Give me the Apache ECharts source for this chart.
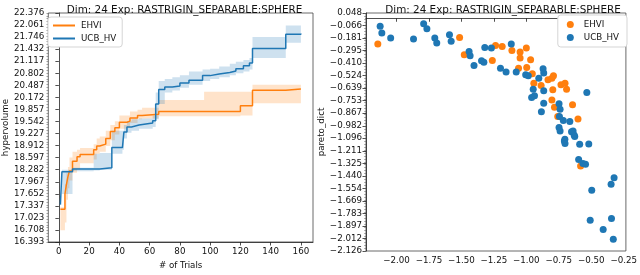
<!DOCTYPE html>
<html><head><meta charset="utf-8">
<script src="https://cdn.jsdelivr.net/npm/echarts@6/dist/echarts.min.js"></script>
<style>html,body{margin:0;padding:0;background:#fff}#c{width:640px;height:275px}</style>
</head><body><div id="c"></div>
<script>
// ---- data ----
const titleText = 'Dim: 24 Exp: RASTRIGIN_SEPARABLE:SPHERE';
const seriesNames = ['EHVI', 'UCB_HV'];

// left: hypervolume vs trials (step breakpoints)
const ehviT    = [1,4,5,6,7,9,12,14,23,25,27,31,34,37,40,45,47,52,55,66,96,120,128,150,160];
const ehviMean = [17.25,17.65,17.9,18.1,18.25,18.5,18.62,18.68,18.8,18.9,18.95,19.1,19.28,19.38,19.52,19.55,19.63,19.7,19.73,19.8,19.8,19.95,20.36,20.39,20.39];
const ehviLo   = [16.7,16.9,17.5,17.8,18.0,18.2,18.3,18.45,18.55,18.7,18.75,18.9,19.05,19.2,19.35,19.4,19.5,19.6,19.62,19.68,19.68,19.7,20.02,20.02,20.02];
const ehviHi   = [17.3,17.9,18.2,18.35,18.6,18.75,18.8,18.85,18.95,19.1,19.15,19.3,19.45,19.55,19.7,19.7,19.8,19.85,19.9,20.1,20.32,20.32,20.5,20.5,20.5];

const ucbT    = [1,2,9,23,27,35,42,43,45,48,53,62,64,66,70,75,80,86,95,100,106,113,117,122,126,128,150,160];
const ucbMean = [17.37,18.23,18.3,18.3,18.33,18.86,18.9,19.27,19.4,19.45,19.5,19.56,20.0,20.38,20.44,20.47,20.55,20.62,20.74,20.78,20.82,20.86,20.92,21.0,21.07,21.45,21.82,21.84];
const ucbLo   = [17.37,17.65,18.24,18.26,18.28,18.7,18.8,19.1,19.25,19.3,19.35,19.4,19.6,20.0,20.3,20.35,20.42,20.5,20.6,20.65,20.7,20.75,20.8,20.85,20.9,21.2,21.6,21.6];
const ucbHi   = [17.37,18.28,18.33,18.7,18.72,19.3,19.3,19.45,19.55,19.6,19.62,19.7,20.3,20.6,20.65,20.7,20.75,20.85,20.9,20.92,20.98,21.05,21.1,21.15,21.2,21.75,22.05,22.15];

const leftXTicks = [0,20,40,60,80,100,120,140,160];
const leftYTicks = ['16.393','16.708','17.023','17.337','17.652','17.967','18.282','18.597','18.912','19.227','19.542','19.857','20.172','20.487','20.802','21.117','21.432','21.746','22.061','22.376'];

// right: pareto scatter
const ehviX = [-2.144,-1.514,-1.478,-1.237,-1.186,-1.111,-1.048,-1.0,-1.048,-0.967,-1.262,-1.06,-0.997,-0.954,-0.942,-0.886,-0.833,-0.803,-0.791,-0.733,-0.702,-0.69,-0.796,-0.803,-0.783,-0.644,-0.602,-0.758,-0.582];
const ehviY = [-0.236,-0.175,-0.334,-0.248,-0.257,-0.294,-0.309,-0.272,-0.364,-0.379,-0.385,-0.456,-0.45,-0.508,-0.593,-0.614,-0.562,-0.547,-0.526,-0.608,-0.593,-0.648,-0.654,-0.746,-0.813,-0.791,-0.92,-0.898,-1.35];
const ucbX = [-2.126,-2.113,-2.045,-1.869,-1.791,-1.766,-1.705,-1.69,-1.592,-1.579,-1.441,-1.433,-1.403,-1.345,-1.327,-1.32,-1.269,-1.199,-1.156,-1.116,-1.078,-1.005,-0.985,-0.947,-0.959,-0.937,-0.904,-0.871,-0.866,-0.866,-0.884,-0.866,-0.748,-0.74,-0.745,-0.715,-0.665,-0.748,-0.74,-0.703,-0.64,-0.632,-0.534,-0.652,-0.627,-0.707,-0.702,-0.589,-0.519,-0.597,-0.564,-0.544,-0.324,-0.347,-0.496,-0.508,-0.344,-0.408,-0.33];
const ucbY = [-0.074,-0.135,-0.181,-0.19,-0.05,-0.095,-0.181,-0.227,-0.15,-0.211,-0.303,-0.343,-0.431,-0.389,-0.401,-0.266,-0.272,-0.456,-0.492,-0.236,-0.492,-0.517,-0.526,-0.648,-0.724,-0.709,-0.547,-0.462,-0.501,-0.663,-0.853,-0.776,-0.782,-0.831,-0.898,-0.935,-0.943,-0.999,-1.03,-1.106,-1.03,-1.066,-0.679,-1.036,-1.081,-1.122,-1.143,-1.152,-1.149,-1.29,-1.327,-1.333,-1.458,-1.516,-1.571,-1.846,-1.83,-1.93,-2.019];

const rightXTicks = [-2.00,-1.75,-1.50,-1.25,-1.00,-0.75,-0.50,-0.25];
const rightYTicks = ['0.048','−0.066','−0.181','−0.295','−0.410','−0.524','−0.639','−0.753','−0.867','−0.982','−1.096','−1.211','−1.325','−1.440','−1.554','−1.669','−1.783','−1.897','−2.012','−2.126'];

// ---- build ----
const num = s => parseFloat(s.replace('−', '-'));
const leftYVals = leftYTicks.map(num);
const rightYVals = rightYTicks.map(num);
const nearestLabel = (vals, labels) => v => {
  let bi = 0, bd = Infinity;
  vals.forEach((x, i) => { const d = Math.abs(x - v); if (d < bd) { bd = d; bi = i; } });
  return labels[bi];
};
const minusFmt = d => v => (v < 0 ? '−' : '') + Math.abs(v).toFixed(d);

const ORANGE = '#ff7f0e', BLUE = '#1f77b4';
const FONT = 'DejaVu Sans';
const TXT = '#111';
const tickFont = { fontFamily: FONT, fontSize: 8.7, color: TXT };

function bandSeries(name, T, lo, hi, fill) {
  return {
    type: 'custom', name: name, xAxisIndex: 0, yAxisIndex: 0, silent: true, z: 1,
    data: [[T[0], lo[0]]],
    renderItem: function (params, api) {
      const up = [], dn = [];
      for (let i = 0; i < T.length; i++) {
        up.push(api.coord([T[i], hi[i]]));
        if (i + 1 < T.length) up.push(api.coord([T[i + 1], hi[i]]));
        dn.push(api.coord([T[i], lo[i]]));
        if (i + 1 < T.length) dn.push(api.coord([T[i + 1], lo[i]]));
      }
      return { type: 'polygon', shape: { points: up.concat(dn.reverse()) }, style: { fill: fill, stroke: null } };
    }
  };
}
const zip = (a, b) => a.map((x, i) => [x, b[i]]);

const axisLineStyle = { lineStyle: { color: '#222', width: 0.8 } };
const tickStyle = { show: true, length: 3.5, lineStyle: { color: '#222', width: 0.8 } };
// decorative dense minor-tick axis (no labels), one per grid
const minorAxis = g => ({ type: 'value', gridIndex: g, min: 0, max: 80, interval: 1, position: 'left',
  axisLine: { show: false }, splitLine: { show: false }, axisLabel: { show: false },
  axisTick: { show: true, length: 1.8, lineStyle: { color: '#666', width: 0.6 } } });

const option = {
  animation: false,
  backgroundColor: '#fff',
  title: [
    { text: titleText, left: 179.5, top: 0, textAlign: 'center', textStyle: { fontFamily: FONT, fontSize: 10.4, fontWeight: 'normal', color: TXT } },
    { text: titleText, left: 498, top: 0, textAlign: 'center', textStyle: { fontFamily: FONT, fontSize: 10.4, fontWeight: 'normal', color: TXT } }
  ],
  legend: [
    { data: seriesNames, orient: 'vertical', left: 48, top: 17, icon: 'rect', itemWidth: 22, itemHeight: 2, itemGap: 4,
      padding: [4, 6, 4, 5], borderColor: '#d5d5d5', borderWidth: 1, borderRadius: 3, backgroundColor: '#fff',
      textStyle: { fontFamily: FONT, fontSize: 8.7, color: TXT, padding: [0, 0, 0, 1] }, selectedMode: false },
    { data: seriesNames, orient: 'vertical', right: 13, top: 15, icon: 'circle', itemWidth: 7, itemHeight: 7, itemGap: 4,
      padding: [5, 8, 5, 9], borderColor: '#d5d5d5', borderWidth: 1, borderRadius: 3, backgroundColor: '#fff',
      textStyle: { fontFamily: FONT, fontSize: 8.7, color: TXT, padding: [0, 0, 0, 5] }, selectedMode: false }
  ],
  grid: [
    { left: 46, top: 13, width: 267, height: 238, show: true, borderColor: '#444', borderWidth: 0.8, backgroundColor: 'transparent' },
    { left: 366, top: 13, width: 264, height: 238, show: true, borderColor: '#444', borderWidth: 0.8, backgroundColor: 'transparent' }
  ],
  xAxis: [
    { type: 'value', gridIndex: 0, min: -7, max: 168, splitLine: { show: false },
      axisLine: axisLineStyle, axisTick: Object.assign({ customValues: leftXTicks }, tickStyle),
      axisLabel: Object.assign({ customValues: leftXTicks, margin: 5, formatter: v => String(Math.round(v)) }, tickFont),
      name: '# of Trials', nameLocation: 'middle', nameGap: 19, nameTextStyle: { fontFamily: FONT, fontSize: 8.7, color: TXT } },
    { type: 'value', gridIndex: 1, min: -2.235, max: -0.233, splitLine: { show: false },
      axisLine: axisLineStyle, axisTick: Object.assign({ customValues: rightXTicks }, tickStyle),
      axisLabel: Object.assign({ customValues: rightXTicks, margin: 5, formatter: minusFmt(2) }, tickFont) }
  ],
  yAxis: [
    { type: 'value', gridIndex: 0, min: 16.393, max: 22.376, splitLine: { show: false },
      axisLine: axisLineStyle, axisTick: Object.assign({ customValues: leftYVals }, tickStyle),
      axisLabel: Object.assign({ customValues: leftYVals, margin: 4, formatter: nearestLabel(leftYVals, leftYTicks) }, tickFont),
      name: 'hypervolume', nameLocation: 'middle', nameGap: 33, nameTextStyle: { fontFamily: FONT, fontSize: 8.7, color: TXT } },
    { type: 'value', gridIndex: 1, min: -2.126, max: 0.048, splitLine: { show: false },
      axisLine: axisLineStyle, axisTick: Object.assign({ customValues: rightYVals }, tickStyle),
      axisLabel: Object.assign({ customValues: rightYVals, margin: 4, formatter: nearestLabel(rightYVals, rightYTicks) }, tickFont),
      name: 'pareto_dict', nameLocation: 'middle', nameGap: 38, nameTextStyle: { fontFamily: FONT, fontSize: 8.7, color: TXT } },
    minorAxis(0),
    minorAxis(1)
  ],
  series: [
    bandSeries('EHVI band', ehviT, ehviLo, ehviHi, 'rgba(255,127,14,0.22)'),
    bandSeries('UCB_HV band', ucbT, ucbLo, ucbHi, 'rgba(31,119,180,0.22)'),
    { type: 'line', name: 'EHVI', xAxisIndex: 0, yAxisIndex: 0, step: 'end', showSymbol: false, z: 3,
      color: ORANGE, lineStyle: { width: 1.5, color: ORANGE }, data: zip(ehviT, ehviMean) },
    { type: 'line', name: 'UCB_HV', xAxisIndex: 0, yAxisIndex: 0, step: 'end', showSymbol: false, z: 3,
      color: BLUE, lineStyle: { width: 1.5, color: BLUE }, data: zip(ucbT, ucbMean) },
    { type: 'scatter', name: 'EHVI', xAxisIndex: 1, yAxisIndex: 1, symbolSize: 7, color: ORANGE, z: 3,
      itemStyle: { color: ORANGE, opacity: 1 }, data: zip(ehviX, ehviY) },
    { type: 'scatter', name: 'UCB_HV', xAxisIndex: 1, yAxisIndex: 1, symbolSize: 7, color: BLUE, z: 4,
      itemStyle: { color: BLUE, opacity: 1 }, data: zip(ucbX, ucbY) }
  ]
};
const chart = echarts.init(document.getElementById('c'), null, { renderer: 'canvas' });
chart.setOption(option);
</script>
</body></html>
